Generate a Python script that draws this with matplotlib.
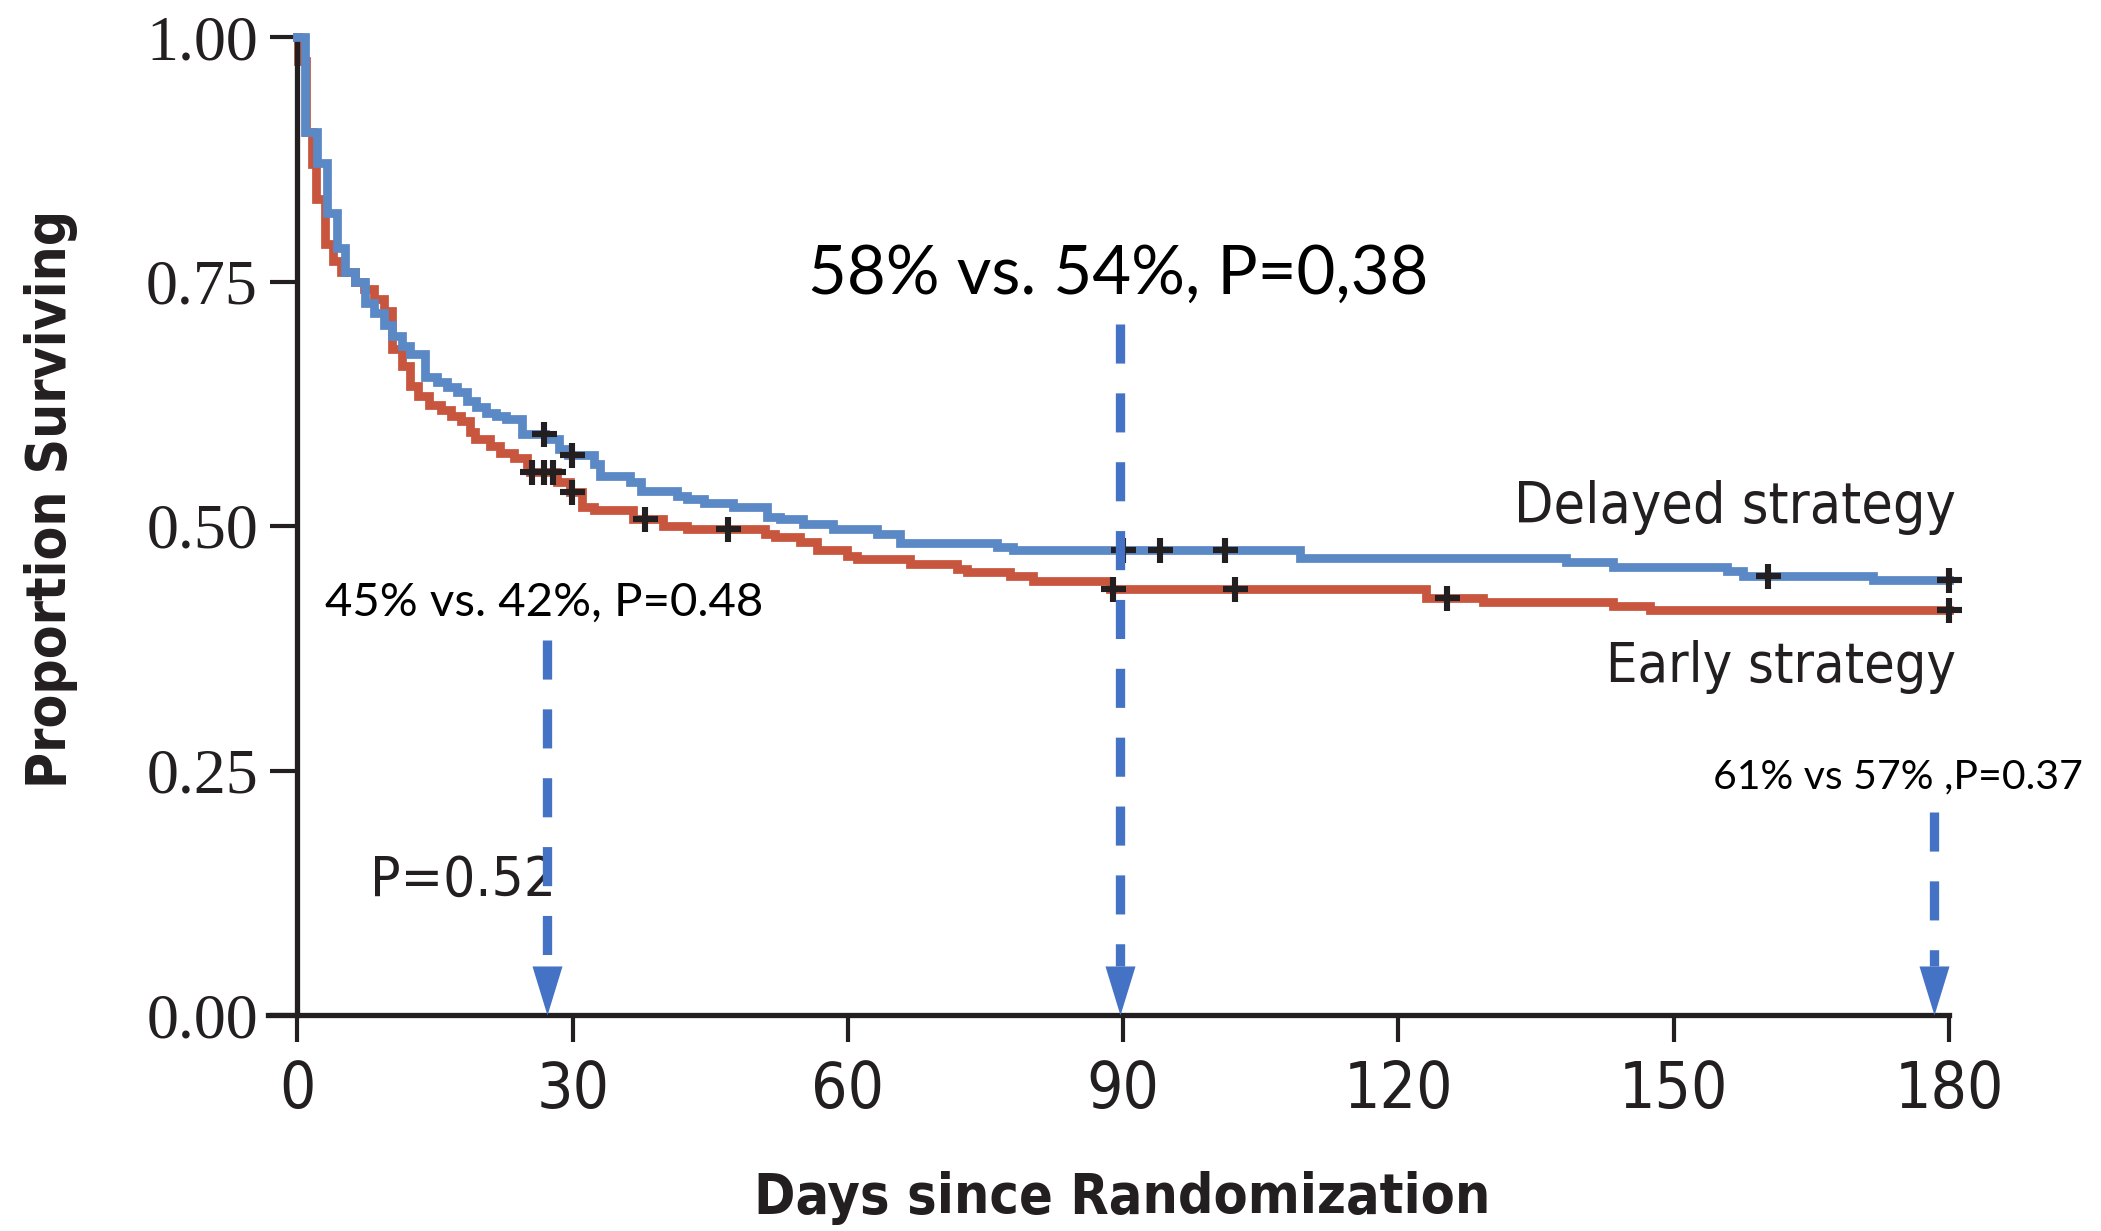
import numpy as np
import matplotlib.pyplot as plt
from matplotlib.path import Path

# Kaplan-Meier steps (day of drop, survival after drop)
delayed_days = [0, 0.87, 2.1, 3.2, 4.3, 5.2, 6.3, 7.4, 8.3, 9.4, 10.3, 11.4, 12.3, 13.9,
                15.2, 16.3, 17.4, 18.5, 19.5, 20.6, 21.7, 22.7, 24.5, 27.0, 28.5, 29.5,
                32.3, 33.0, 36.3, 37.4, 41.4, 42.5, 44.3, 47.5, 51.2, 52.6, 55.1, 58.4,
                63.2, 65.7, 76.2, 78.0, 109.3, 138.3, 143.4, 155.8, 157.6, 171.7, 180]
delayed_surv = [1.000, 0.903, 0.871, 0.820, 0.784, 0.760, 0.749, 0.728, 0.718, 0.706,
                0.694, 0.684, 0.676, 0.652, 0.647, 0.642, 0.637, 0.628, 0.622, 0.616,
                0.612, 0.609, 0.594, 0.589, 0.579, 0.573, 0.563, 0.551, 0.545, 0.536,
                0.531, 0.528, 0.524, 0.519, 0.509, 0.507, 0.502, 0.497, 0.492, 0.483,
                0.479, 0.475, 0.467, 0.463, 0.4585, 0.4535, 0.449, 0.445, 0.445]

early_days = [0, 0.05, 0.9, 1.6, 2.0, 3.0, 3.9, 4.8, 6.3, 7.3, 8.3, 9.4, 10.3, 11.4, 12.3,
              13.2, 14.3, 15.6, 16.7, 17.8, 18.8, 19.4, 21.0, 22.1, 23.6, 25.0, 25.4, 28.3,
              29.7, 31.0, 32.3, 36.6, 39.9, 42.5, 51.0, 52.0, 54.8, 56.6, 59.9, 61.0, 66.8,
              71.9, 73.0, 77.7, 80.2, 88.6, 123.0, 129.2, 143.4, 147.4, 180]
early_surv = [1.000, 0.975, 0.903, 0.870, 0.834, 0.788, 0.771, 0.760, 0.750, 0.742, 0.732,
              0.720, 0.681, 0.664, 0.643, 0.633, 0.624, 0.619, 0.612, 0.607, 0.596, 0.589,
              0.582, 0.575, 0.570, 0.563, 0.555, 0.545, 0.535, 0.519, 0.516, 0.507, 0.500,
              0.497, 0.492, 0.4885, 0.4835, 0.475, 0.4695, 0.466, 0.461, 0.456, 0.4525,
              0.449, 0.444, 0.4357, 0.4262, 0.422, 0.4177, 0.4136, 0.4136]

delayed_censor = [26.9, 29.9, 90.0, 94.0, 101.1, 160.3, 180.0]
early_censor = [25.6, 26.9, 27.9, 29.9, 37.9, 46.9, 88.9, 102.2, 125.3, 180.0]

arrow_days = [27.2, 89.7, 178.4]
arrow_tops = [0.383, 0.707, 0.208]

x_ticks = [0, 30, 60, 90, 120, 150, 180]
y_ticks = [0.0, 0.25, 0.5, 0.75, 1.0]
y_tick_labels = ["0.00", "0.25", "0.50", "0.75", "1.00"]

blue = "#5b89c6"
red = "#c8553d"
arrow_blue = "#4472c4"
ink = "#231f20"

narrow = dict(family="DejaVu Sans", stretch="condensed")
serif = "Liberation Serif"
calibri = "Lato"


def level_at(days, surv, t):
    i = np.searchsorted(days, t, side="right") - 1
    return surv[i]


fig = plt.figure(figsize=(21.01, 12.31), dpi=100)
ax = fig.add_axes([268 / 2101, 1 - 1015 / 1231, (1949 - 268) / 2101, (1015 - 37) / 1231])
ax.set_xlim(-3.2, 180)
ax.set_ylim(0, 1.0)

ax.step(early_days, early_surv, where="post", color=red, lw=6.3, zorder=2,
        clip_on=False, solid_joinstyle="miter")
ax.step(delayed_days, delayed_surv, where="post", color=blue, lw=6.3, zorder=3,
        clip_on=False, solid_joinstyle="miter")

ax.plot(delayed_censor, [level_at(delayed_days, delayed_surv, t) for t in delayed_censor],
        ls="", marker="+", ms=18, mew=4.4, color=ink, zorder=4, clip_on=False)
ax.plot(early_censor, [level_at(early_days, early_surv, t) for t in early_censor],
        ls="", marker="+", ms=18, mew=4.4, color=ink, zorder=4, clip_on=False)

# dashed arrows
head = Path([(0, 0), (-0.306, 1), (0.306, 1), (0, 0)],
            [Path.MOVETO, Path.LINETO, Path.LINETO, Path.CLOSEPOLY])
head_h = 49 / 980
for d, top in zip(arrow_days, arrow_tops):
    ax.plot([d, d], [top, head_h], color=arrow_blue, lw=6.7,
            ls=(0, (4.2, 3.2)), dash_capstyle="butt", zorder=5)
    ax.plot([d], [0], marker=head, ms=70.6, color=arrow_blue, mew=0,
            zorder=5, clip_on=False)

# axes styling
for s in ["top", "right"]:
    ax.spines[s].set_visible(False)
ax.spines["left"].set_position(("data", 0))
for s in ["left", "bottom"]:
    ax.spines[s].set_linewidth(3.8)
    ax.spines[s].set_color(ink)

ax.set_xticks(x_ticks)
ax.set_yticks(y_ticks)
ax.set_yticklabels(y_tick_labels)
ax.tick_params(axis="both", direction="out", length=19.4, width=3, color=ink)
ax.tick_params(axis="y", pad=9, labelsize=46, labelcolor=ink)
ax.tick_params(axis="x", pad=12, labelsize=46, labelcolor=ink)
for lab in ax.get_yticklabels():
    lab.set_fontfamily(serif)
for lab in ax.get_xticklabels():
    lab.set_fontfamily(narrow["family"])
    lab.set_fontstretch(narrow["stretch"])

fig.text(51 / 2101, 1 - 499 / 1231, "Proportion Surviving", rotation=90,
         ha="center", va="center", fontsize=39.5, fontweight="bold",
         color=ink, **narrow)
fig.text(1122 / 2101, 1 - 1213 / 1231, "Days since Randomization",
         ha="center", va="baseline", fontsize=40, fontweight="bold",
         color=ink, **narrow)

ax.text(180.8, 0.503, "Delayed strategy", ha="right", va="baseline",
        fontsize=41, color=ink, **narrow)
ax.text(180.8, 0.341, "Early strategy", ha="right", va="baseline",
        fontsize=40, color=ink, **narrow)
ax.text(7.95, 0.1224, "P=0.52", ha="left", va="baseline",
        fontsize=40.5, color=ink, **narrow)

ax.text(55.7, 0.737, "58% vs. 54%, P=0,38", ha="left", va="baseline",
        fontsize=48.3, family=calibri, color="black")
ax.text(3.05, 0.408, "45% vs. 42%, P=0.48", ha="left", va="baseline",
        fontsize=34.1, family=calibri, color="black")
ax.text(154.3, 0.2316, "61% vs 57% ,P=0.37", ha="left", va="baseline",
        fontsize=29.5, family=calibri, color="black", clip_on=False)

fig.savefig("out.png", dpi=100)
